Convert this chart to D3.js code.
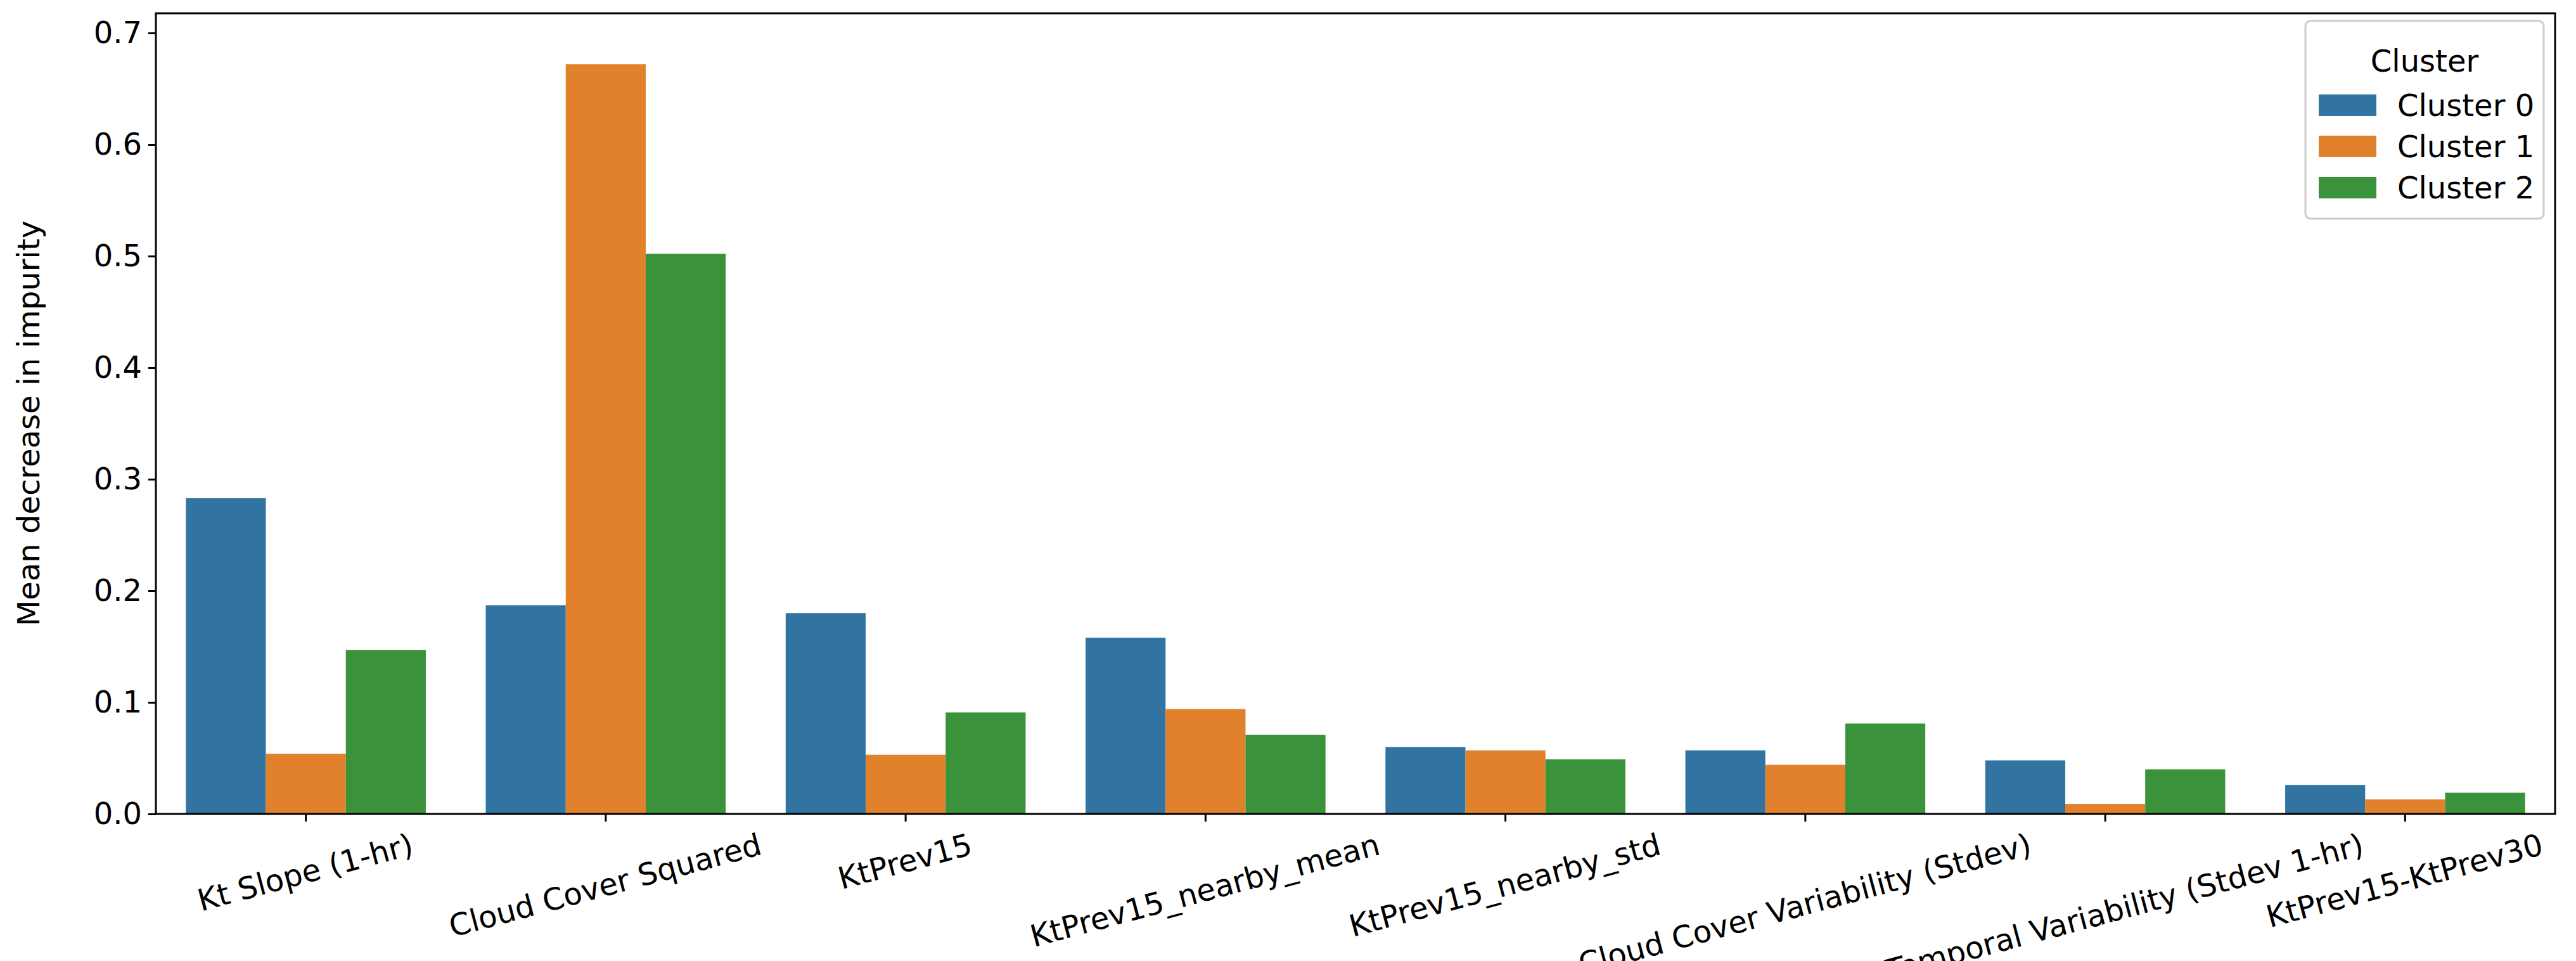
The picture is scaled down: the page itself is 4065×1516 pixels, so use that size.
<!DOCTYPE html>
<html><head><meta charset="utf-8">
<script src="https://cdn.jsdelivr.net/npm/d3@7"></script>
<style>body{margin:0;background:#fff}text{font-family:"DejaVu Sans",sans-serif}</style>
</head><body>
<script>
const categories = ["Kt Slope (1-hr)","Cloud Cover Squared","KtPrev15","KtPrev15_nearby_mean","KtPrev15_nearby_std","Cloud Cover Variability (Stdev)","Kt Temporal Variability (Stdev 1-hr)","KtPrev15-KtPrev30"];
const seriesNames = ["Cluster 0","Cluster 1","Cluster 2"];
const cluster0 = [0.283,0.187,0.180,0.158,0.060,0.057,0.048,0.026];
const cluster1 = [0.054,0.672,0.053,0.094,0.057,0.044,0.009,0.013];
const cluster2 = [0.147,0.502,0.091,0.071,0.049,0.081,0.040,0.019];
const colors = ["#3274a1","#e1812c","#3a923a"];
const yTicks = [0,0.1,0.2,0.3,0.4,0.5,0.6,0.7];
const series = [cluster0,cluster1,cluster2];

const W=4065,H=1516, L=246,R=4032,T=21,B=1284, FS=48;
const svg=d3.select("body").append("svg").attr("width",W).attr("height",H);
const x=d3.scaleBand().domain(categories).range([L,R]).paddingInner(0.2).paddingOuter(0.1);
const xs=d3.scaleBand().domain(seriesNames).range([0,x.bandwidth()]);
const y=d3.scaleLinear().domain([0,0.7176]).range([B,T]);

series.forEach((vals,si)=>{
  svg.append("g").selectAll("rect").data(vals).join("rect")
    .attr("x",(d,i)=>x(categories[i])+xs(seriesNames[si]))
    .attr("width",xs.bandwidth())
    .attr("y",d=>y(d)).attr("height",d=>B-y(d))
    .attr("fill",colors[si]);
});

const ya=svg.append("g").attr("transform",`translate(${L},0)`)
  .call(d3.axisLeft(y).tickValues(yTicks).tickFormat(d3.format(".1f")).tickSize(12).tickPadding(10));
ya.select(".domain").remove();
ya.selectAll("line").attr("stroke-width",3);
ya.selectAll("text").attr("font-size",FS).attr("fill","#000");

const xa=svg.append("g").attr("transform",`translate(0,${B})`)
  .call(d3.axisBottom(x).tickSize(12).tickSizeOuter(0));
xa.select(".domain").remove();
xa.selectAll("line").attr("stroke-width",3);
const s15=Math.sin(15*Math.PI/180), c15=Math.cos(15*Math.PI/180);
xa.selectAll("text").attr("font-size",FS).attr("fill","#000")
  .attr("text-anchor","middle").attr("dy",0).attr("y",0)
  .attr("dominant-baseline","middle")
  .each(function(){
    const w=this.getComputedTextLength();
    const half=(w*s15+FS*1.15*c15)/2;
    d3.select(this).attr("transform",`translate(0,${12+12+half}) rotate(-15)`);
  });

svg.append("rect").attr("x",L).attr("y",T).attr("width",R-L).attr("height",B-T)
  .attr("fill","none").attr("stroke","#000").attr("stroke-width",3);

svg.append("text").attr("transform",`translate(62,${y(0.35)}) rotate(-90)`)
  .attr("text-anchor","middle").attr("font-size",FS).text("Mean decrease in impurity");

const lg=svg.append("g");
lg.append("rect").attr("x",3638).attr("y",33).attr("width",376).attr("height",312)
  .attr("rx",8).attr("fill","#fff").attr("stroke","#cccccc").attr("stroke-width",3);
lg.append("text").attr("x",3826).attr("y",113).attr("text-anchor","middle").attr("font-size",FS).text("Cluster");
seriesNames.forEach((n,i)=>{
  const cy=166+i*65;
  lg.append("rect").attr("x",3659).attr("y",cy-17).attr("width",91).attr("height",34).attr("fill",colors[i]);
  lg.append("text").attr("x",3783).attr("y",cy+17).attr("font-size",FS).text(n);
});
</script>
</body></html>
